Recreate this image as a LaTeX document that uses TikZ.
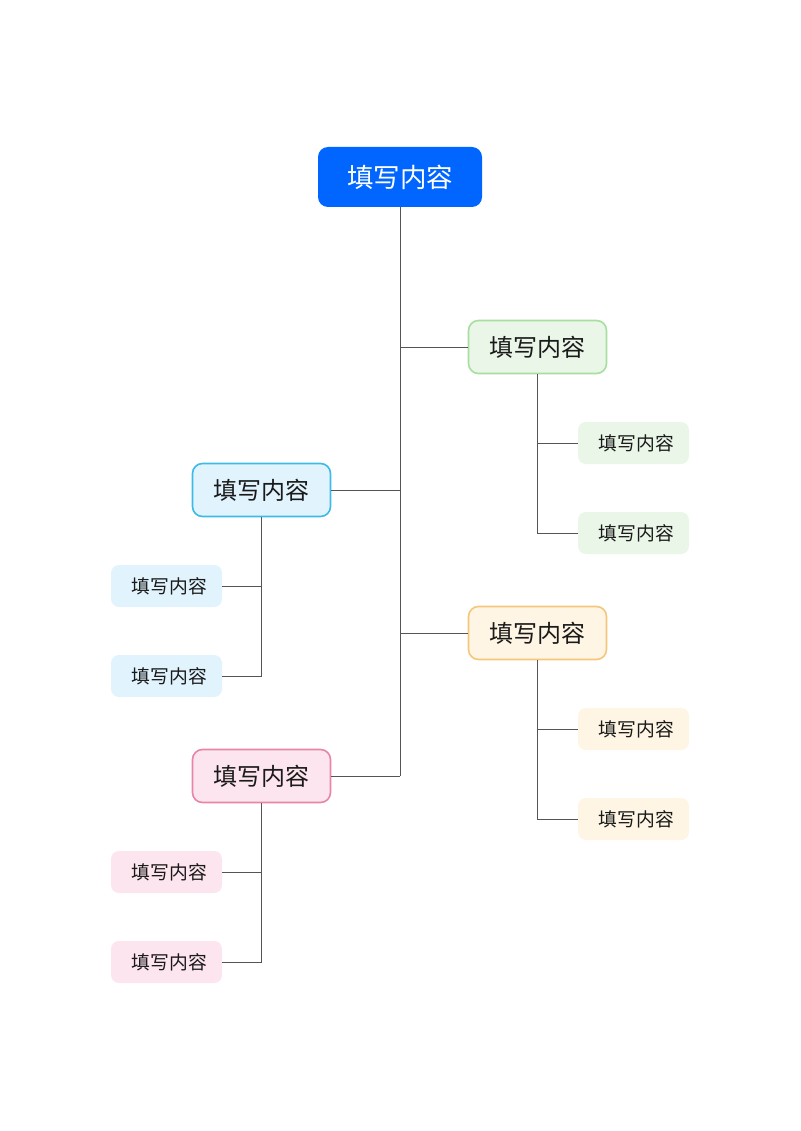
\documentclass[tikz,border=0pt]{standalone}
\usepackage{fontspec}
\newfontfamily\cjk{Noto Sans CJK SC}
\definecolor{rootc}{HTML}{0066FF}
\definecolor{gB}{HTML}{A6DFA0}\definecolor{gF}{HTML}{EAF6E8}
\definecolor{bB}{HTML}{3DBBE8}\definecolor{bF}{HTML}{E1F3FD}
\definecolor{yB}{HTML}{F4C77A}\definecolor{yF}{HTML}{FEF5E4}
\definecolor{pB}{HTML}{E886A8}\definecolor{pF}{HTML}{FCE5EE}
\definecolor{txt}{HTML}{1A1A1A}
\definecolor{ln}{HTML}{555555}
\newcommand\lt{\hspace{6pt}\raisebox{-2pt}{填写内容}}
\newcommand\mt{\raisebox{-2pt}{填写内容}}
\begin{document}
\begin{tikzpicture}[x=1pt,y=-1pt,
  rootbox/.style={fill=rootc,rounded corners=10pt,minimum width=164pt,minimum height=60pt,inner sep=0pt,text=white,font=\cjk\fontsize{26.5}{30}\selectfont},
  midbox/.style={draw=#1B,fill=#1F,line width=1.6pt,rounded corners=10pt,minimum width=138pt,minimum height=53pt,inner sep=0pt,text=txt,font=\cjk\fontsize{24}{28}\selectfont},
  leafbox/.style={fill=#1F,rounded corners=8pt,minimum width=111pt,minimum height=42pt,inner sep=0pt,text=txt,font=\cjk\fontsize{18.8}{22}\selectfont},
  conn/.style={draw=ln,line width=1pt}]
\useasboundingbox (0,0) rectangle (800,1131);
\node[rootbox] (root) at (400,177) {\mt};
\node[midbox=g] (g) at (537.5,347) {\mt};
\node[midbox=b] (b) at (261.5,490) {\mt};
\node[midbox=y] (y) at (537.5,633) {\mt};
\node[midbox=p] (p) at (261.5,776) {\mt};
\node[leafbox=g] (g1) at (633.5,443) {\lt};
\node[leafbox=g] (g2) at (633.5,533) {\lt};
\node[leafbox=b] (b1) at (166.5,586) {\lt};
\node[leafbox=b] (b2) at (166.5,676) {\lt};
\node[leafbox=y] (y1) at (633.5,729) {\lt};
\node[leafbox=y] (y2) at (633.5,819) {\lt};
\node[leafbox=p] (p1) at (166.5,872) {\lt};
\node[leafbox=p] (p2) at (166.5,962) {\lt};
\coordinate (tend) at (400,776);
\draw[conn] (root.south) -- (tend);
\draw[conn] (g.west) -- (g.west -| root.south);
\draw[conn] (b.east) -- (b.east -| root.south);
\draw[conn] (y.west) -- (y.west -| root.south);
\draw[conn] (p.east) -- (tend);
\draw[conn] (g.south) -- (g.south |- g2.west) -- (g2.west);
\draw[conn] (g1.west) -- (g1.west -| g.south);
\draw[conn] (y.south) -- (y.south |- y2.west) -- (y2.west);
\draw[conn] (y1.west) -- (y1.west -| y.south);
\draw[conn] (b.south) -- (b.south |- b2.east) -- (b2.east);
\draw[conn] (b1.east) -- (b1.east -| b.south);
\draw[conn] (p.south) -- (p.south |- p2.east) -- (p2.east);
\draw[conn] (p1.east) -- (p1.east -| p.south);
\end{tikzpicture}
\end{document}
